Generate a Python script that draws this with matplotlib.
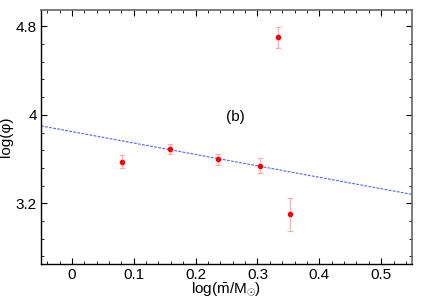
import matplotlib
matplotlib.use("Agg")
import matplotlib.pyplot as plt
from matplotlib.ticker import MultipleLocator

plt.rcParams['font.family'] = ['Liberation Sans', 'DejaVu Sans']
plt.rcParams['mathtext.fontset'] = 'custom'
plt.rcParams['mathtext.rm'] = 'Liberation Sans'
plt.rcParams['mathtext.it'] = 'Liberation Sans:italic'

# data
log_m = [0.081, 0.158, 0.236, 0.304, 0.353, 0.333]
log_phi = [3.575, 3.69, 3.597, 3.54, 3.10, 4.70]
phi_err = [0.06, 0.048, 0.053, 0.07, 0.15, 0.097]
fit_x = [-0.05, 0.55]
fit_y = [3.90, 3.28]
x_ticks = [0, 0.1, 0.2, 0.3, 0.4, 0.5]
x_tick_labels = ['0', '0.1', '0.2', '0.3', '0.4', '0.5']
y_ticks = [3.2, 4.0, 4.8]
y_tick_labels = ['3.2', '4', '4.8']

fig = plt.figure(figsize=(4.27, 2.99), dpi=100)
ax = fig.add_axes([0.096, 0.117, 0.869, 0.850])

ax.plot(fit_x, fit_y, color='#3344ff', lw=0.8, ls=(0, (2.5, 1.2)), alpha=0.85, zorder=2)
ax.errorbar(log_m, log_phi, yerr=phi_err, fmt='o', color='red', ms=3.0,
            ecolor=(1, 0.45, 0.45, 0.55), elinewidth=1.0, capsize=2.5, capthick=0.8, zorder=3)

ax.text(0.264, 3.98, '(b)', fontsize=11, ha='center', va='center')

ax.set_xlim(-0.05, 0.55)
ax.set_ylim(2.65, 4.95)
ax.set_xticks(x_ticks)
ax.set_xticklabels(x_tick_labels)
ax.set_yticks(y_ticks)
ax.set_yticklabels(y_tick_labels)
ax.xaxis.set_minor_locator(MultipleLocator(0.02))
ax.yaxis.set_minor_locator(MultipleLocator(0.16))
ax.tick_params(which='both', direction='in', top=True, right=True, labelsize=11, pad=3)
ax.tick_params(which='major', length=4, width=0.8)
ax.tick_params(which='minor', length=2, width=0.6)

for s in ['left', 'bottom']:
    ax.spines[s].set_color('black')
    ax.spines[s].set_linewidth(1.0)
for s in ['top', 'right']:
    ax.spines[s].set_color('#666666')
    ax.spines[s].set_linewidth(1.2)

ax.set_xlabel(r'log($\bar{\mathrm{m}}$/M$_{\odot}$)', fontsize=11, labelpad=-1)
ax.set_ylabel('log(φ)', fontsize=11, labelpad=2)

fig.savefig('out.png', dpi=100)
